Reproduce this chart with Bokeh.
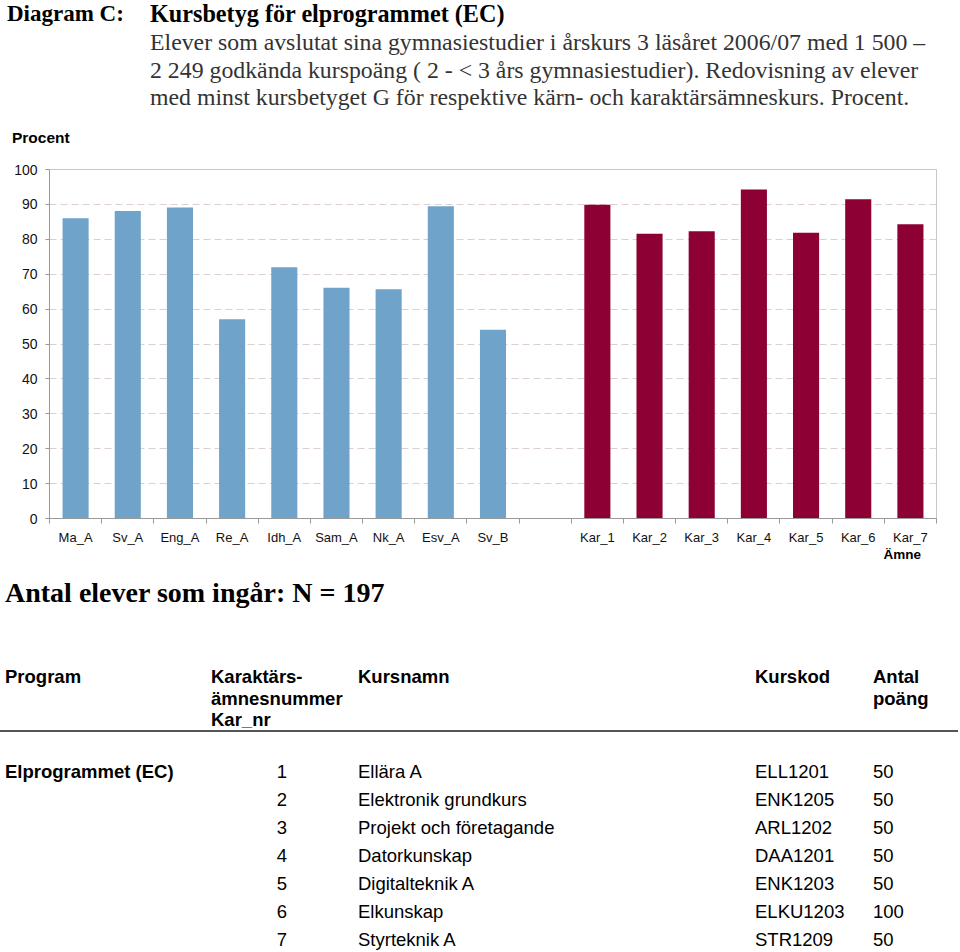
from bokeh.plotting import figure
from bokeh.layouts import column
from bokeh.models import Range1d, FixedTicker, Div
from bokeh.embed import file_html
from bokeh.resources import INLINE

# ---------------- data ----------------
core_names = ["Ma_A", "Sv_A", "Eng_A", "Re_A", "Idh_A", "Sam_A", "Nk_A", "Esv_A", "Sv_B"]
core_values = [86.0, 88.1, 89.1, 57.1, 72.0, 66.1, 65.7, 89.5, 54.1]
kar_names = ["Kar_1", "Kar_2", "Kar_3", "Kar_4", "Kar_5", "Kar_6", "Kar_7"]
kar_values = [89.9, 81.6, 82.3, 94.3, 81.9, 91.5, 84.3]
y_ticks = [0, 10, 20, 30, 40, 50, 60, 70, 80, 90, 100]

title_label = "Diagram C:"
title_main = "Kursbetyg för elprogrammet (EC)"
subtitle_lines = [
    "Elever som avslutat sina gymnasiestudier i årskurs 3 läsåret 2006/07 med 1 500 –",
    "2 249 godkända kurspoäng ( 2 - &lt; 3 års gymnasiestudier). Redovisning av elever",
    "med minst kursbetyget G för respektive kärn- och karaktärsämneskurs. Procent.",
]
y_title = "Procent"
x_title = "Ämne"
n_text = "Antal elever som ingår: N = 197"

head_cols = ["Program", "Karaktärs-\nämnesnummer\nKar_nr", "Kursnamn", "Kurskod", "Antal\npoäng"]
tab_program = "Elprogrammet (EC)"
tab_nr = ["1", "2", "3", "4", "5", "6", "7"]
tab_kurs = ["Ellära A", "Elektronik grundkurs", "Projekt och företagande", "Datorkunskap",
            "Digitalteknik A", "Elkunskap", "Styrteknik A"]
tab_kod = ["ELL1201", "ENK1205", "ARL1202", "DAA1201", "ENK1203", "ELKU1203", "STR1209"]
tab_poang = ["50", "50", "50", "50", "50", "100", "50"]

W = 960
TOP_H, CH_BOT = 160, 547
BOT_H = 952 - CH_BOT

SERIF = "'Liberation Serif', 'Times New Roman', serif"
SANS = "'Liberation Sans', Arial, sans-serif"


def span(text, x, y, size, bold=False, font=SANS, align="left", color="#000000", lh=1.1):
    tx = {"left": "0", "center": "-50%", "right": "-100%"}[align]
    return (f'<span style="position:absolute;left:{x}px;top:{y}px;'
            f'transform:translate({tx},-50%);white-space:nowrap;line-height:{lh};'
            f'font-family:{font};font-size:{size}px;font-weight:{"bold" if bold else "normal"};'
            f'color:{color};">{text}</span>')


def box(inner, h):
    return (f'<div style="position:relative;width:{W}px;height:{h}px;overflow:hidden;'
            f'background:white;">{inner}</div>')


# ---------------- top text ----------------
top_parts = [
    span(title_label, 7, 14, 23, bold=True, font=SERIF),
    span(title_main, 150, 14, 24.2, bold=True, font=SERIF),
]
for k, line in enumerate(subtitle_lines):
    top_parts.append(span(line, 150, [42, 70, 97][k], 23.8, font=SERIF, color="#333333"))
top_parts.append(span(y_title, 12, 138, 15.5, bold=True))
top = Div(text=box("".join(top_parts), TOP_H), width=W, height=TOP_H, margin=0)

# ---------------- chart ----------------
all_names = core_names + [""] + kar_names
n_slots = len(all_names)
core_x = [i + 0.5 for i in range(len(core_names))]
kar_x = [len(core_names) + 1 + j + 0.5 for j in range(len(kar_names))]

FL, FT, FR, FB = 49, 169, 936, 518
p = figure(width=W, height=CH_BOT - TOP_H, output_backend="svg", toolbar_location=None,
           x_range=Range1d(0, n_slots), y_range=Range1d(0, 100),
           min_border_left=FL, min_border_top=FT - TOP_H,
           min_border_right=W - FR, min_border_bottom=CH_BOT - FB, margin=0)
p.outline_line_color = "#c8c8c8"
p.background_fill_color = "white"
p.border_fill_color = "white"

p.vbar(x=core_x, top=core_values, width=0.5, bottom=0, fill_color="#6fa3c9", line_color=None)
p.vbar(x=kar_x, top=kar_values, width=0.5, bottom=0, fill_color="#8c0034", line_color=None)

xa = p.xaxis[0]
centres = [i + 0.5 for i in range(n_slots)]
xa.ticker = FixedTicker(ticks=centres, minor_ticks=list(range(n_slots + 1)))
xa.major_label_overrides = {c: nm for c, nm in zip(centres, all_names)}
xa.major_tick_out = 0
xa.major_tick_in = 0
xa.minor_tick_out = 5
xa.minor_tick_in = 0
xa.minor_tick_line_color = "#999999"
xa.axis_line_color = "#999999"
xa.major_label_text_font = "Liberation Sans"
xa.major_label_text_font_size = "13px"
xa.major_label_text_color = "#111111"
xa.major_label_standoff = 6

ya = p.yaxis[0]
ya.ticker = FixedTicker(ticks=y_ticks)
ya.major_tick_out = 4
ya.major_tick_in = 0
ya.minor_tick_out = 0
ya.minor_tick_in = 0
ya.major_tick_line_color = "#999999"
ya.axis_line_color = "#999999"
ya.major_label_text_font = "Liberation Sans"
ya.major_label_text_font_size = "14px"
ya.major_label_text_color = "#111111"
ya.major_label_standoff = 8

p.xgrid.visible = False
p.ygrid.ticker = FixedTicker(ticks=y_ticks[1:-1])
p.ygrid.grid_line_color = "#dccfcf"
p.ygrid.grid_line_dash = "7 4"

# ---------------- bottom text + table ----------------
o = CH_BOT
TF = 18.5
bot_parts = [
    span(x_title, 921, 554.5 - o, 13.5, bold=True, align="right", lh=1.0),
    span(n_text, 5, 593 - o, 28, bold=True, font=SERIF),
]
head_x = [5, 211, 358, 755, 873]
for hx, h in zip(head_x, head_cols):
    for k, part in enumerate(h.split("\n")):
        bot_parts.append(span(part, hx, 677 - o + 21.5 * k, TF, bold=True))
bot_parts.append(f'<div style="position:absolute;left:0;top:{730 - o}px;width:{W - 2}px;'
                 f'height:0;border-top:2px solid #555555;"></div>')
row_y = [772 - o + 28 * k for k in range(len(tab_nr))]
bot_parts.append(span(tab_program, 5, row_y[0], TF, bold=True))
for k in range(len(tab_nr)):
    bot_parts.append(span(tab_nr[k], 282, row_y[k], TF, align="center"))
    bot_parts.append(span(tab_kurs[k], 358, row_y[k], TF))
    bot_parts.append(span(tab_kod[k], 755, row_y[k], TF))
    bot_parts.append(span(tab_poang[k], 873, row_y[k], TF))
bot = Div(text=box("".join(bot_parts), BOT_H), width=W, height=BOT_H, margin=0)

layout = column(top, p, bot, spacing=0)
open("out.html", "w").write(file_html(layout, INLINE))
